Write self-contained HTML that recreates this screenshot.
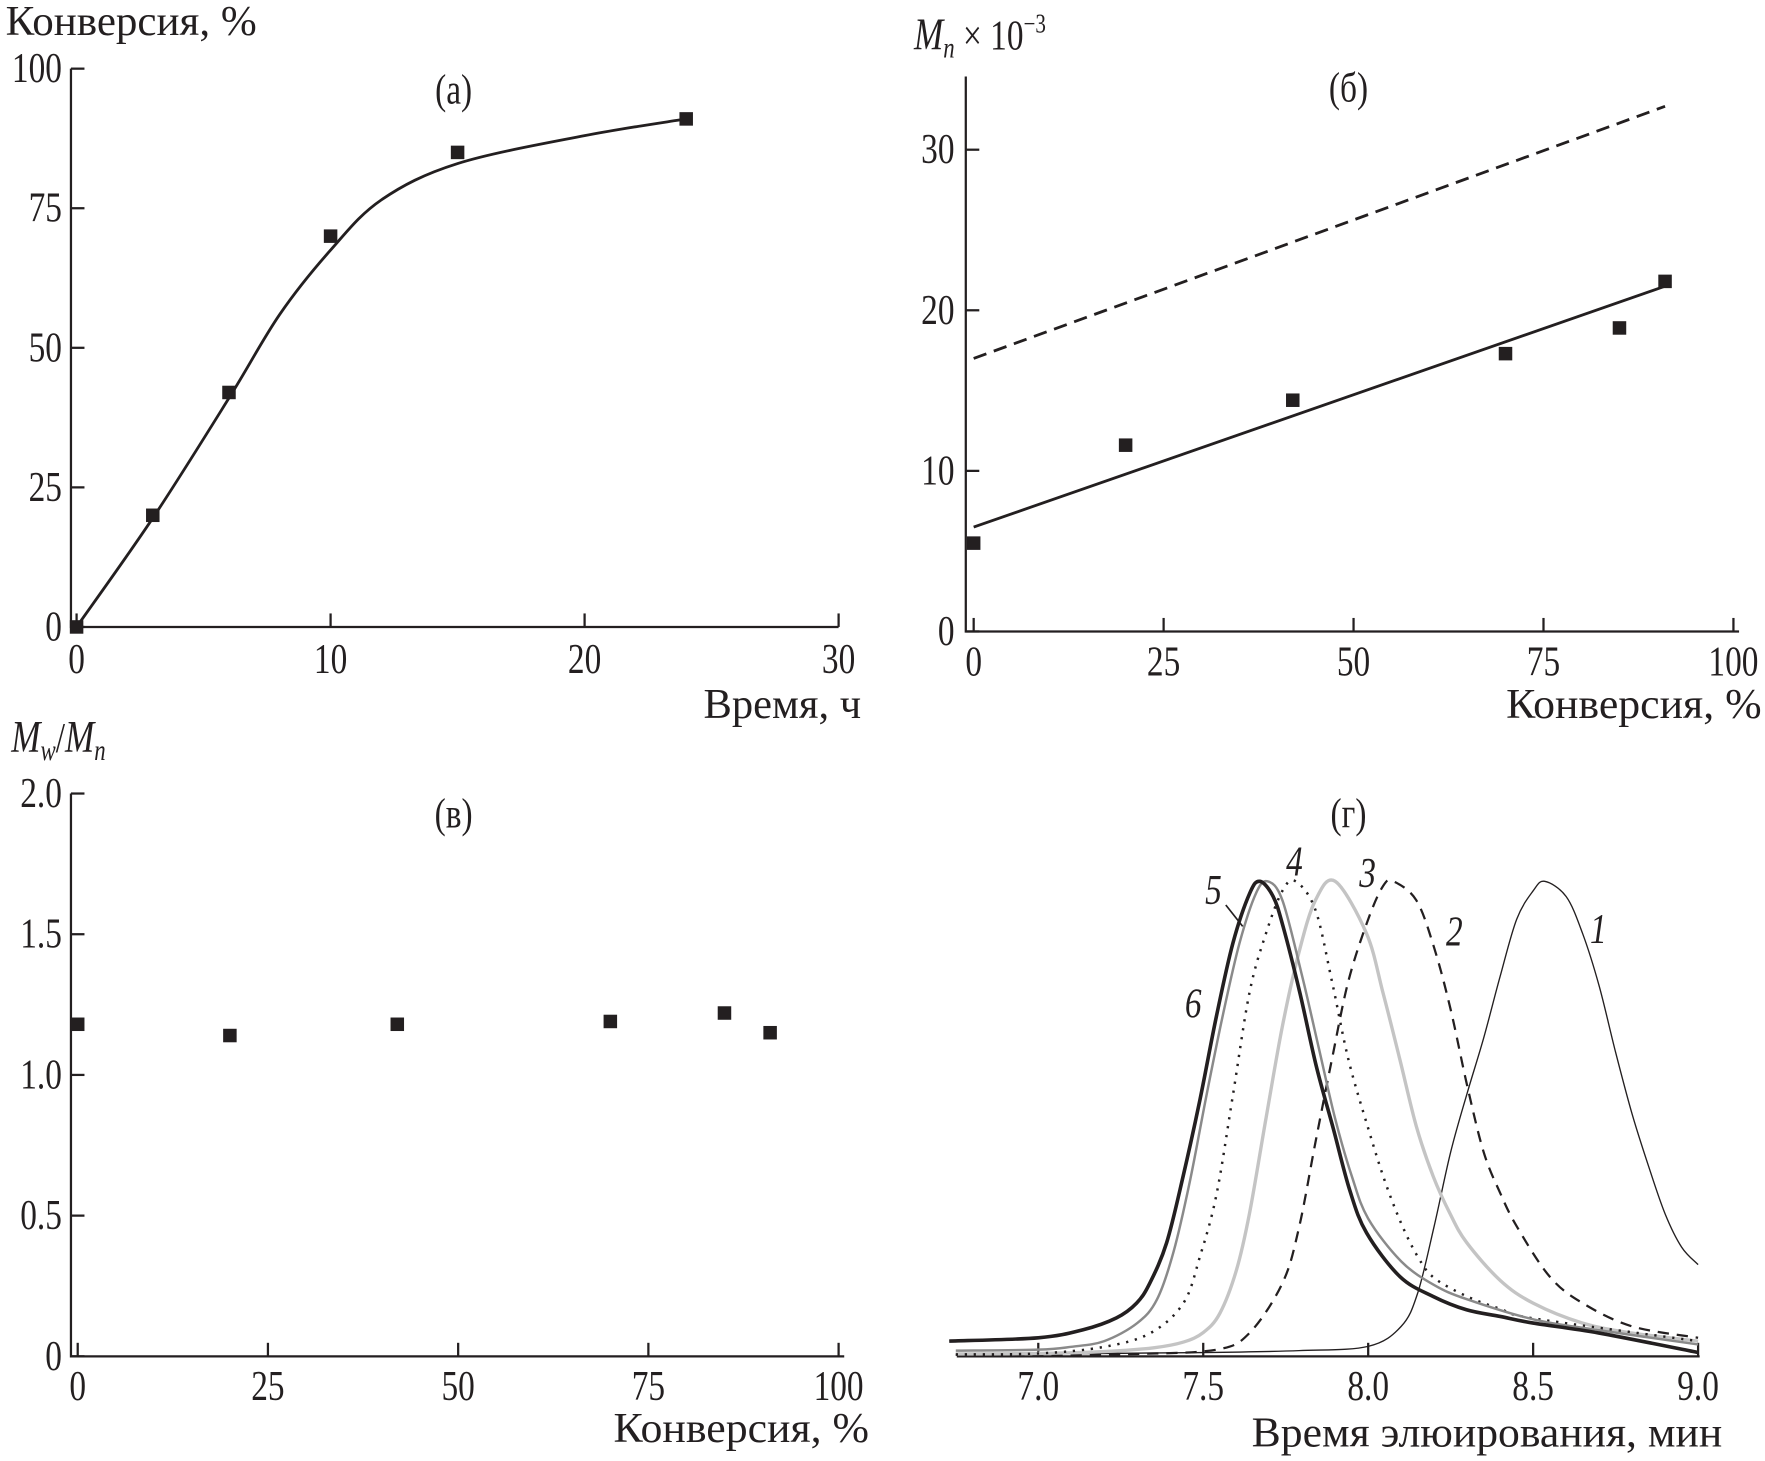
<!DOCTYPE html>
<html><head><meta charset="utf-8"><style>
html,body{margin:0;padding:0;background:#fff}
svg{display:block}
text{font-family:"Liberation Serif","Times New Roman",serif;fill:#231f20;font-size:38px}
</style></head><body>
<svg id="fig" width="1765" height="1461" viewBox="0 0 1568 1298" xmlns="http://www.w3.org/2000/svg"></svg>
<script>
// ---- Panel a data
const aTime=[0,3,6,10,15,24];
const aConv=[0,20,42,70,85,91];
const aFitT=[0,3,6,8,10,12,15,20,24];
const aFitY=[0,19.5,41,56,67.5,76.5,83,88,91];
const aXTicks=[0,10,20,30];
const aYTicks=[0,25,50,75,100];
// ---- Panel b data
const bConv=[0,20,42,70,85,91];
const bMn=[5.5,11.6,14.4,17.3,18.9,21.8];
const bFitX=[0,91];
const bFitY=[6.5,21.5];
const bTheoX=[0,91];
const bTheoY=[17,32.7];
const bXTicks=[0,25,50,75,100];
const bYTicks=[0,10,20,30];
// ---- Panel v data
const vConv=[0,20,42,70,85,91];
const vPdi=[1.18,1.14,1.18,1.19,1.22,1.15];
const vXTicks=[0,25,50,75,100];
const vYTicks=["0","0.5","1.0","1.5","2.0"];
// ---- Panel g data (elution time, normalized signal)
const c1T=[6.75,7.0,7.5,7.79,8.0,8.1,8.15,8.2,8.25,8.3,8.35,8.4,8.45,8.5,8.535,8.6,8.65,8.7,8.75,8.8,8.85,8.9,8.95,9.0];
const c1Y=[0.003,0.005,0.008,0.012,0.021,0.063,0.133,0.274,0.43,0.554,0.67,0.8,0.92,0.98,1.0,0.968,0.89,0.78,0.64,0.51,0.4,0.3,0.23,0.193];
const c2T=[6.75,7.0,7.3,7.54,7.64,7.74,7.79,7.84,7.89,7.94,8.0,8.045,8.076,8.146,8.2,8.25,8.3,8.35,8.4,8.45,8.55,8.65,8.8,9.0];
const c2Y=[0.003,0.003,0.005,0.014,0.049,0.154,0.27,0.45,0.625,0.79,0.92,0.99,1.0,0.96,0.86,0.73,0.57,0.43,0.344,0.274,0.168,0.112,0.063,0.039];
const c3T=[6.75,7.0,7.2,7.35,7.44,7.5,7.55,7.6,7.64,7.69,7.74,7.79,7.84,7.9,7.995,8.045,8.096,8.146,8.197,8.247,8.298,8.4,8.5,8.65,8.8,9.0];
const c3Y=[0.005,0.006,0.01,0.018,0.03,0.05,0.09,0.18,0.3,0.5,0.695,0.85,0.96,1.0,0.89,0.765,0.625,0.484,0.379,0.302,0.24,0.16,0.112,0.07,0.049,0.032];
const c4T=[6.75,7.0,7.2,7.34,7.44,7.49,7.54,7.59,7.64,7.69,7.74,7.78,7.84,7.89,7.94,8.0,8.05,8.1,8.15,8.2,8.3,8.4,8.5,9.0];
const c4Y=[0.004,0.006,0.02,0.049,0.112,0.21,0.34,0.55,0.765,0.89,0.98,1.0,0.94,0.79,0.625,0.48,0.37,0.28,0.21,0.165,0.126,0.1,0.08,0.032];
const c5T=[6.75,7.0,7.1,7.2,7.3,7.36,7.41,7.46,7.51,7.56,7.61,7.66,7.695,7.74,7.8,7.85,7.9,7.95,8.0,8.1,8.2,8.3,8.5,8.7,9.0];
const c5Y=[0.012,0.014,0.02,0.032,0.07,0.12,0.22,0.37,0.55,0.72,0.87,0.975,1.0,0.96,0.8,0.65,0.5,0.38,0.29,0.2,0.15,0.12,0.078,0.055,0.025];
const c6T=[6.73,7.0,7.136,7.237,7.298,7.338,7.389,7.439,7.49,7.54,7.59,7.641,7.672,7.712,7.742,7.793,7.843,7.894,7.944,7.995,8.096,8.197,8.298,8.4,8.5,8.7,9.0];
const c6Y=[0.032,0.039,0.056,0.081,0.112,0.154,0.239,0.379,0.54,0.716,0.87,0.975,1.0,0.968,0.905,0.765,0.61,0.48,0.35,0.26,0.168,0.126,0.098,0.084,0.07,0.049,0.008];
const gXTicks=["7.0","7.5","8.0","8.5","9.0"];

const NS="http://www.w3.org/2000/svg";
const svg=document.getElementById('fig');
const SX=0.78;
function mk(tag,attrs,parent){const e=document.createElementNS(NS,tag);for(const k in attrs)e.setAttribute(k,attrs[k]);(parent||svg).appendChild(e);return e;}
function txt(s,x,y,anchor,parent,len){const a={x:x/SX,y:y,'text-anchor':anchor||'start',transform:`scale(${SX},1)`};
 if(len){a.textLength=len/SX;a.lengthAdjust='spacingAndGlyphs';}
 const e=mk('text',a,parent);e.textContent=s;return e;}
function smooth(pts){let d='M'+pts[0][0]+','+pts[0][1];for(let i=0;i<pts.length-1;i++){const p0=pts[i-1]||pts[i],p1=pts[i],p2=pts[i+1],p3=pts[i+2]||p2;
 const c1x=p1[0]+(p2[0]-p0[0])/6,c1y=p1[1]+(p2[1]-p0[1])/6,c2x=p2[0]-(p3[0]-p1[0])/6,c2y=p2[1]-(p3[1]-p1[1])/6;
 d+=` C${c1x},${c1y} ${c2x},${c2y} ${p2[0]},${p2[1]}`;}return d;}
function marker(x,y,g){const m=mk('rect',{x:x-6,y:y-6,width:12,height:12,fill:'#231f20'},g);

}

// ===== Panel a
(function(){
 const g=mk('g',{});
 
 
 const X=v=>68+v*(745-68)/30, Y=v=>557-v*(557-61)/100;
 const ax=mk('path',{d:`M63,61 V557 H745`,stroke:'#231f20','stroke-width':2,fill:'none'},g);
 
 
 aYTicks.forEach(v=>{mk('line',{x1:63,x2:75,y1:Y(v),y2:Y(v),stroke:'#231f20','stroke-width':2},g);const t=txt(String(v),55,Y(v)+12,'end',g);
  });
 aXTicks.forEach(v=>{mk('line',{x1:X(v),x2:X(v),y1:557,y2:545,stroke:'#231f20','stroke-width':2},g);const t=txt(String(v),X(v),598,'middle',g);
  });
 const yt=txt('Конверсия, %',5,31,'start',g,223);
 const xt=txt('Время, ч',765,638,'end',g,140);
 const pl=txt('(а)',403,92,'middle',g);
 const fit=mk('path',{d:smooth(aFitT.map((t,i)=>[X(t),Y(aFitY[i])])),stroke:'#231f20','stroke-width':2.5,fill:'none'},g);
 
 aTime.forEach((t,i)=>marker(X(t),Y(aConv[i]),g));
})();

// ===== Panel b
(function(){
 const g=mk('g',{});
 
 
 const X=v=>865+v*(1540-865)/100, Y=v=>561-v*(561-133)/30;
 const ax=mk('path',{d:`M858,68 V561 H1545`,stroke:'#231f20','stroke-width':2,fill:'none'},g);
 
 bYTicks.forEach(v=>{mk('line',{x1:858,x2:870,y1:Y(v),y2:Y(v),stroke:'#231f20','stroke-width':2},g);const t=txt(String(v),848,Y(v)+12,'end',g);
  });
 bXTicks.forEach(v=>{mk('line',{x1:X(v),x2:X(v),y1:561,y2:549,stroke:'#231f20','stroke-width':2},g);const t=txt(String(v),X(v),600,'middle',g);
  });
 const yt=mk('text',{x:812/SX,y:44,transform:`scale(${SX},1)`},g);yt.innerHTML='<tspan font-style="italic" font-size="40">M</tspan><tspan font-style="italic" font-size="26" dy="7">n</tspan><tspan dy="-7"> × 10</tspan><tspan font-size="24" dy="-15">−3</tspan>';
 
 const xt=txt('Конверсия, %',1565,638,'end',g,227);
 const pl=txt('(б)',1198,90,'middle',g);
 const th=mk('line',{x1:X(bTheoX[0]),y1:Y(bTheoY[0]),x2:X(bTheoX[1]),y2:Y(bTheoY[1]),stroke:'#231f20','stroke-width':2.5,'stroke-dasharray':'12,7'},g);
 
 const fl=mk('line',{x1:X(bFitX[0]),y1:Y(bFitY[0]),x2:X(bFitX[1]),y2:Y(bFitY[1]),stroke:'#231f20','stroke-width':2.5},g);
 
 bConv.forEach((c,i)=>marker(X(c),Y(bMn[i]),g));
})();

// ===== Panel v
(function(){
 const g=mk('g',{});
 
 
 const X=v=>69+v*(745-69)/100, Y=v=>1205-v*(1205-705)/2;
 const ax=mk('path',{d:`M63,705 V1205 H750`,stroke:'#231f20','stroke-width':2,fill:'none'},g);
 
 vYTicks.forEach(s=>{const v=parseFloat(s);mk('line',{x1:63,x2:75,y1:Y(v),y2:Y(v),stroke:'#231f20','stroke-width':2},g);const t=txt(s,55,Y(v)+12,'end',g);
  });
 vXTicks.forEach(v=>{mk('line',{x1:X(v),x2:X(v),y1:1205,y2:1193,stroke:'#231f20','stroke-width':2},g);const t=txt(String(v),X(v),1244,'middle',g);
  });
 const yt=mk('text',{x:10/SX,y:668,transform:`scale(${SX},1)`},g);yt.innerHTML='<tspan font-style="italic" font-size="40">M</tspan><tspan font-style="italic" font-size="26" dy="7">w</tspan><tspan dy="-7">/</tspan><tspan font-style="italic" font-size="40">M</tspan><tspan font-style="italic" font-size="26" dy="7">n</tspan>';
 
 const xt=txt('Конверсия, %',772,1281,'end',g,227);
 const pl=txt('(в)',403,735,'middle',g);
 vConv.forEach((c,i)=>marker(X(c),Y(vPdi[i]),g));
})();

// ===== Panel g
(function(){
 const g=mk('g',{});
 
 
 const X=v=>922.4+(v-7)*(1215.5-922.4)/1, Y=v=>1205-v*(1205-783);
 const ax=mk('line',{x1:850,x2:1510,y1:1205,y2:1205,stroke:'#231f20','stroke-width':2},g);
 
 gXTicks.forEach(s=>{const v=parseFloat(s);mk('line',{x1:X(v),x2:X(v),y1:1205,y2:1193,stroke:'#231f20','stroke-width':2},g);const t=txt(s,X(v),1244,'middle',g);
  });
 const xt=txt('Время элюирования, мин',1530,1285,'end',g,418);
 const pl=txt('(г)',1198,735,'middle',g);
 const curves=[[c1T,c1Y,'#231f20',1.2,'','curve-1'],[c2T,c2Y,'#231f20',2,'10,7','curve-2'],[c3T,c3Y,'#c4c4c4',3,'','curve-3'],
  [c4T,c4Y,'#231f20',2.2,'2,6','curve-4'],[c5T,c5Y,'#8a8a8a',2.2,'','curve-5'],[c6T,c6Y,'#231f20',3.2,'','curve-6']];
 curves.forEach(c=>{const a={d:smooth(c[0].map((t,i)=>[X(t),Y(c[1][i])])),stroke:c[2],'stroke-width':c[3],fill:'none'};if(c[4])a['stroke-dasharray']=c[4];
  const p=mk('path',a,g);});
 const labs=[['1',1420,838],['2',1292,840],['3',1215,788],['4',1150,778],['5',1078,803],['6',1060,904]];
 labs.forEach(l=>{const t=txt(l[0],l[1],l[2],'middle',g);t.setAttribute('font-style','italic');
  });
 const ld=mk('line',{x1:1089,y1:804,x2:1104,y2:823,stroke:'#231f20','stroke-width':1.5},g);
 
})();
</script>
</body></html>
